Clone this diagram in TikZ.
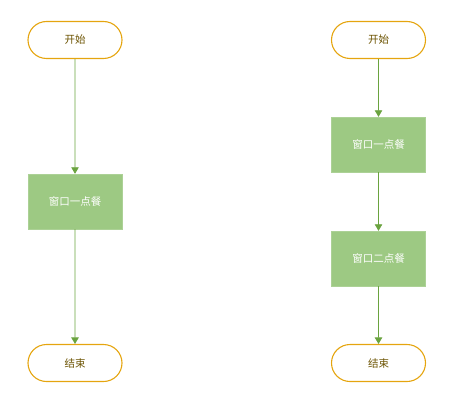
\documentclass[tikz,border=0pt]{standalone}
\usepackage{fontspec}
\newfontfamily\cjk{Noto Sans CJK SC}
\usetikzlibrary{arrows.meta, shapes.misc}
\definecolor{termline}{HTML}{E5A50F}
\definecolor{termtext}{HTML}{6B5200}
\definecolor{boxfill}{HTML}{9DC983}
\definecolor{flowline}{HTML}{6AA33F}

\begin{document}
\begin{tikzpicture}[x=1pt, y=-1pt,
  terminal/.style={draw=termline, line width=1.1pt, rounded rectangle, minimum width=94pt, minimum height=37pt, inner sep=0pt, text=termtext, font=\cjk\fontsize{10.5}{12}\selectfont},
  action/.style={fill=boxfill, draw=boxfill!85!white, minimum width=94pt, minimum height=55pt, inner sep=0pt, text=white, font=\cjk\fontsize{10.5}{12}\selectfont},
  flow/.style={draw=flowline, line width=0.8pt, -{Triangle[length=6.5pt, width=7.5pt]}}]
\useasboundingbox (0,0) rectangle (462,409);

% one window
\node[terminal] (startA) at (75, 40) {开始};
\node[action] (orderA) at (75, 201.5) {窗口一点餐};
\node[terminal] (endA) at (75, 363) {结束};

% two windows
\node[terminal] (startB) at (378.5, 40) {开始};
\node[action] (orderB1) at (378.5, 144.5) {窗口一点餐};
\node[action] (orderB2) at (378.5, 258.5) {窗口二点餐};
\node[terminal] (endB) at (378.5, 363) {结束};

% connectors
\draw[flow] (startA) -- (orderA);
\draw[flow] (orderA) -- (endA);
\draw[flow] (startB) -- (orderB1);
\draw[flow] (orderB1) -- (orderB2);
\draw[flow] (orderB2) -- (endB);
\end{tikzpicture}
\end{document}
